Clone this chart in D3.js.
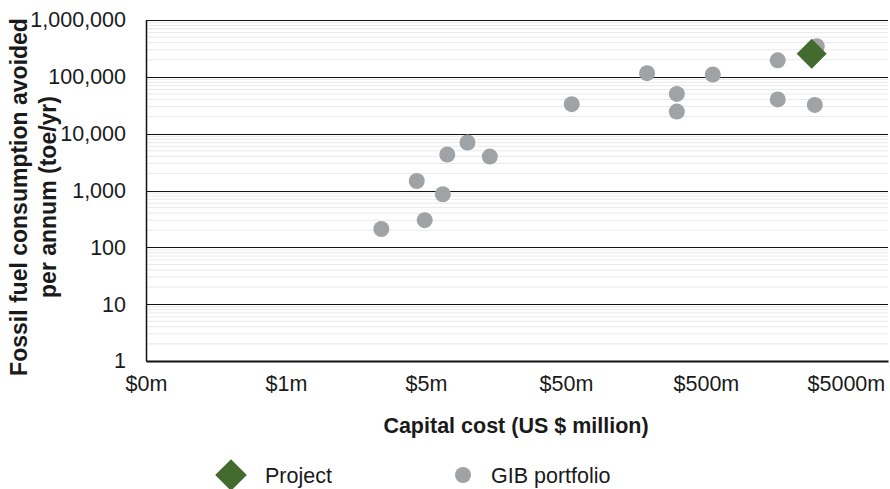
<!DOCTYPE html>
<html><head><meta charset="utf-8">
<script src="https://cdn.jsdelivr.net/npm/d3@7"></script>
<style>body{margin:0;background:#fff}svg{display:block}text{font-family:"Liberation Sans",Arial,sans-serif;fill:#1a1a1a}</style>
</head><body><svg id="c" width="890" height="489"></svg>
<script>
// Data
const gibCost = [2.4, 4.9, 4.3, 6.6, 7.1, 9.9, 14.3, 55, 190, 310, 310, 560, 1630, 1630, 3100, 3000];
const gibToe  = [210, 300, 1470, 860, 4300, 7000, 3950, 33000, 116000, 50000, 24500, 110000, 195000, 40000, 345000, 32000];
const projectCost = [2850];
const projectToe  = [255000];
const xTicks = [0.05, 0.5, 5, 50, 500, 5000];
const xTickLabels = ["$0m", "$1m", "$5m", "$50m", "$500m", "$5000m"];
const yTicks = [1, 10, 100, 1000, 10000, 100000, 1000000];
const seriesNames = ["Project", "GIB portfolio"];

const svg = d3.select("#c");
const L = 146, R = 888, T = 20, B = 361;
const x = d3.scaleLog().domain([0.05, 10000]).range([L, R]);
const y = d3.scaleLog().domain([1, 1000000]).range([B, T]);

// minor gridlines
const minor = [];
for (let d = 1; d < 1000000; d *= 10) for (let k = 2; k <= 9; k++) minor.push(d * k);
svg.append("g").selectAll("line").data(minor).join("line")
  .attr("x1", L).attr("x2", R).attr("y1", d => y(d)).attr("y2", d => y(d))
  .attr("stroke", "#e9e9e9").attr("stroke-width", 1);

// major gridlines
svg.append("g").selectAll("line").data(yTicks.slice(1)).join("line")
  .attr("x1", L).attr("x2", R).attr("y1", d => Math.round(y(d)) + 0.5).attr("y2", d => Math.round(y(d)) + 0.5)
  .attr("stroke", "#111").attr("stroke-width", 1.2);

// y axis
const fmtY = d3.format(",");
const yAxis = svg.append("g").attr("transform", `translate(${L},0)`)
  .call(d3.axisLeft(y).tickValues(yTicks).tickFormat(fmtY).tickSize(0).tickPadding(20));
yAxis.select(".domain").attr("stroke", "#111").attr("stroke-width", 1.5);
yAxis.selectAll("text").style("font-size", "21.5px").style("font-family", "Liberation Sans, Arial").attr("fill", "#1a1a1a");

// x axis
const xAxis = svg.append("g").attr("transform", `translate(0,${B})`)
  .call(d3.axisBottom(x).tickValues(xTicks).tickFormat((d, i) => xTickLabels[i]).tickSize(0).tickPadding(15));
xAxis.select(".domain").attr("stroke", "#111").attr("stroke-width", 2.2);
xAxis.selectAll("text").style("font-size", "21.5px").style("font-family", "Liberation Sans, Arial").attr("fill", "#1a1a1a");

// points
const gib = gibCost.map((c, i) => ({c, t: gibToe[i]}));
svg.append("g").selectAll("circle").data(gib).join("circle")
  .attr("cx", d => x(d.c)).attr("cy", d => y(d.t)).attr("r", 8)
  .attr("fill", "#a0a3a6");
const proj = projectCost.map((c, i) => ({c, t: projectToe[i]}));
const diamond = d3.symbol().type(d3.symbolSquare).size(450);
svg.append("g").selectAll("path").data(proj).join("path")
  .attr("d", diamond)
  .attr("transform", d => `translate(${x(d.c)},${y(d.t)}) rotate(45)`)
  .attr("fill", "#436b30");

// axis titles
svg.append("text").attr("x", 516).attr("y", 433).attr("text-anchor", "middle")
  .style("font-size", "21.5px").style("font-weight", "bold").text("Capital cost (US $ million)");
const yt = svg.append("text").attr("transform", "translate(0,197) rotate(-90)").attr("text-anchor", "middle")
  .style("font-size", "23px").style("font-weight", "bold");
yt.append("tspan").attr("x", 0).attr("y", 26.5).text("Fossil fuel consumption avoided");
yt.append("tspan").attr("x", 0).attr("y", 55.5).text("per annum (toe/yr)");

// legend
const lg = svg.append("g");
lg.append("path").attr("d", d3.symbol().type(d3.symbolSquare).size(500))
  .attr("transform", "translate(231,475) rotate(45)").attr("fill", "#436b30");
lg.append("text").attr("x", 265).attr("y", 483).style("font-size", "21.5px").text(seriesNames[0]);
lg.append("circle").attr("cx", 463).attr("cy", 475).attr("r", 8).attr("fill", "#a0a3a6");
lg.append("text").attr("x", 491).attr("y", 483).style("font-size", "21.5px").text(seriesNames[1]);
</script></body></html>
